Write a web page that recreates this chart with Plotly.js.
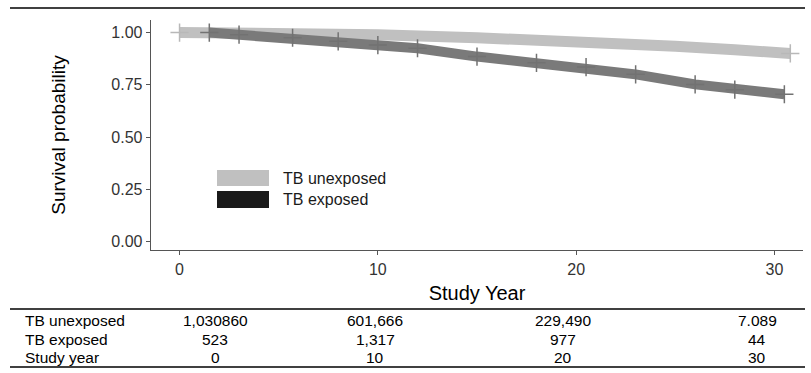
<!DOCTYPE html>
<html>
<head>
<meta charset="utf-8">
<script src="https://cdn.plot.ly/plotly-3.0.1.min.js"></script>
<style>html,body{margin:0;padding:0;background:#fff;}#chart{width:811px;height:373px;}</style>
</head>
<body>
<div id="chart"></div>
<script>
// Survival curves
const unexpYears = [0, 3, 7, 10, 15, 20, 25, 28, 30.8];
const unexpSurv  = [1.0, 0.999, 0.996, 0.99, 0.975, 0.96, 0.935, 0.918, 0.90];
const expYears   = [1.5, 3, 5.7, 8, 10, 12, 15, 18, 20.5, 23, 26, 28, 30.5];
const expSurv    = [1.0, 0.99, 0.975, 0.958, 0.94, 0.925, 0.885, 0.855, 0.835, 0.80, 0.752, 0.727, 0.705];

const seriesNames = ["TB unexposed", "TB exposed"];
const xTicks = [0, 10, 20, 30];
const yTicks = [0, 0.25, 0.5, 0.75, 1.0];
const yTickText = ["0.00", "0.25", "0.50", "0.75", "1.00"];

// Number-at-risk table
const tableRowLabels = ["TB unexposed", "TB exposed", "Study year"];
const riskUnexposed = ["1,030860", "601,666", "229,490", "7.089"];
const riskExposed   = ["523", "1,317", "977", "44"];
const riskYears     = ["0", "10", "20", "30"];

const W = 811, H = 373;
const L = 151, R = 8, T = 20, B = 123;
const PW = W - L - R, PH = H - T - B;
const px = v => (v - L) / PW;
const py = v => (H - B - v) / PH;

const font = "Arial, 'Liberation Sans', sans-serif";
const colLight = "#c0c0c0", colDark = "#7a7a7a";

const nU = unexpYears.length;
const traces = [
  {x: unexpYears, y: unexpSurv, name: seriesNames[0], type: "scatter", mode: "lines",
   line: {color: colLight, width: 11}, showlegend: false, hoverinfo: "skip"},
  {x: [unexpYears[0], unexpYears[nU - 1]], y: [unexpSurv[0], unexpSurv[nU - 1]], type: "scatter", mode: "markers",
   marker: {symbol: "cross-thin-open", size: 13, color: "#b8b8b8", line: {color: "#b8b8b8", width: 1.5}},
   showlegend: false, hoverinfo: "skip"},
  {x: expYears, y: expSurv, name: seriesNames[1], type: "scatter", mode: "lines",
   line: {color: colDark, width: 10}, showlegend: false, hoverinfo: "skip"},
  {x: expYears, y: expSurv, type: "scatter", mode: "markers",
   marker: {symbol: "cross-thin-open", size: 13, color: "#727272", line: {color: "#727272", width: 1.5}},
   showlegend: false, hoverinfo: "skip"}
];

const shapes = [
  {type: "line", xref: "paper", yref: "paper", x0: px(10), x1: px(805), y0: py(8), y1: py(8), line: {color: "#000", width: 1.5}},
  {type: "line", xref: "paper", yref: "paper", x0: px(10), x1: px(805), y0: py(309), y1: py(309), line: {color: "#000", width: 1.5}},
  {type: "line", xref: "paper", yref: "paper", x0: px(10), x1: px(805), y0: py(367), y1: py(367), line: {color: "#000", width: 1.5}},
  {type: "rect", xref: "paper", yref: "paper", x0: px(217), x1: px(269), y0: py(186), y1: py(170), fillcolor: colLight, line: {width: 0}},
  {type: "rect", xref: "paper", yref: "paper", x0: px(217), x1: px(269), y0: py(208), y1: py(191), fillcolor: "#1a1a1a", line: {width: 0}}
];

const annotations = [
  {xref: "paper", yref: "paper", x: px(281), y: py(178), text: seriesNames[0], showarrow: false, xanchor: "left", yanchor: "middle", font: {family: font, size: 16, color: "#1a1a1a"}},
  {xref: "paper", yref: "paper", x: px(281), y: py(199.5), text: seriesNames[1], showarrow: false, xanchor: "left", yanchor: "middle", font: {family: font, size: 16, color: "#1a1a1a"}}
];

const colX = [215, 375, 563, 757];
const rowY = [320.5, 339, 357.5];
const rows = [riskUnexposed, riskExposed, riskYears];
rows.forEach((vals, r) => {
  annotations.push({xref: "paper", yref: "paper", x: px(23), y: py(rowY[r]), text: tableRowLabels[r], showarrow: false, xanchor: "left", yanchor: "middle", font: {family: font, size: 15.5, color: "#000"}});
  vals.forEach((v, c) => {
    annotations.push({xref: "paper", yref: "paper", x: px(colX[c]), y: py(rowY[r]), text: v, showarrow: false, xanchor: "center", yanchor: "middle", font: {family: font, size: 15.5, color: "#000"}});
  });
});

const layout = {
  width: W, height: H,
  margin: {l: L, r: R, t: T, b: B, pad: 0},
  paper_bgcolor: "#fff", plot_bgcolor: "#fff",
  showlegend: false,
  xaxis: {
    range: [-1.44, 31.44], tickvals: xTicks, ticktext: xTicks.map(String),
    showgrid: false, zeroline: false, showline: true, linecolor: "#555", linewidth: 1.3,
    ticks: "outside", ticklen: 4, tickcolor: "#555", tickwidth: 1,
    tickfont: {family: font, size: 16, color: "#333"},
    title: {text: "Study Year", font: {family: font, size: 20, color: "#000"}, standoff: 9}
  },
  yaxis: {
    range: [-0.04, 1.06], tickvals: yTicks, ticktext: yTickText,
    showgrid: false, zeroline: false, showline: true, linecolor: "#555", linewidth: 1.3,
    ticks: "outside", ticklen: 4, tickcolor: "#555", tickwidth: 1,
    tickfont: {family: font, size: 16, color: "#333"},
    title: {text: "Survival probability", font: {family: font, size: 19, color: "#000"}, standoff: 40}
  },
  shapes: shapes,
  annotations: annotations
};

Plotly.newPlot("chart", traces, layout, {displayModeBar: false, staticPlot: true});
</script>
</body>
</html>
